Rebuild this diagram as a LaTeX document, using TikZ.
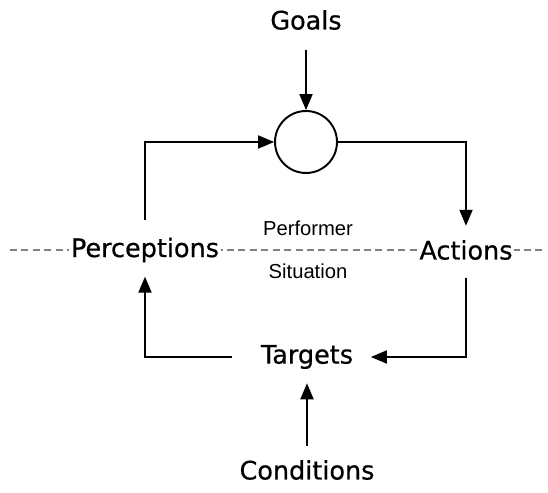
\documentclass[tikz,border=0pt]{standalone}
\usepackage{fontspec}
\setmainfont{DejaVu Sans}
\newfontface\labelfont{DejaVu Sans}[FakeBold=0.6]
\newfontfamily\smallfont{Liberation Sans}
\usetikzlibrary{calc,positioning,arrows}

\begin{document}
\begin{tikzpicture}[
	%	style def
    x=0.02cm, y=-0.02cm,
    >=triangle 45,
    flow line/.style={line width=1.1pt, ->},
    main text/.style={font=\labelfont\fontsize{14.5}{16}\selectfont, inner sep=1pt, fill=white},
    side text/.style={font=\smallfont\fontsize{11.5}{13}\selectfont},
    every node/.style={color=black}
    ]
    \useasboundingbox (0,0) rectangle (548,493);

    % boundary between performer and situation (dashed)
    \draw[gray, dash pattern=on 4pt off 2.5pt, line width=0.7pt] (10,250) coordinate (west) -- (546,250) coordinate (east);

    % labels
    \node[main text] (goals) at (306,20) {Goals};
    \node[draw, circle, line width=1.1pt, minimum size=1.24cm, inner sep=0pt] (comp) at (306,142) {};
    \node[main text] (perc) at (145,250) {Perceptions};
    \node[main text] (act) at (466,250) {Actions};
    \node[side text] (perf) at (308,228) {Performer};
    \node[side text] (sit) at (308,271) {Situation};
    \node[main text] (targ) at (307,357) {Targets};
    \node[main text] (cond) at (307,470) {Conditions};

    % feedback loop
    \draw[flow line, shorten <=10pt] (goals) -- (comp);
    \draw[flow line, shorten <=9pt] (perc) |- (comp);
    \draw[flow line, shorten >=7pt] (comp) -| (act);
    \draw[flow line, shorten <=9pt, shorten >=9pt] (act) |- (targ);
    \draw[flow line, shorten <=15pt, shorten >=7pt] (targ) -| (perc);
    \draw[flow line, shorten <=7pt, shorten >=7pt] (cond) -- (targ);
\end{tikzpicture}
\end{document}
